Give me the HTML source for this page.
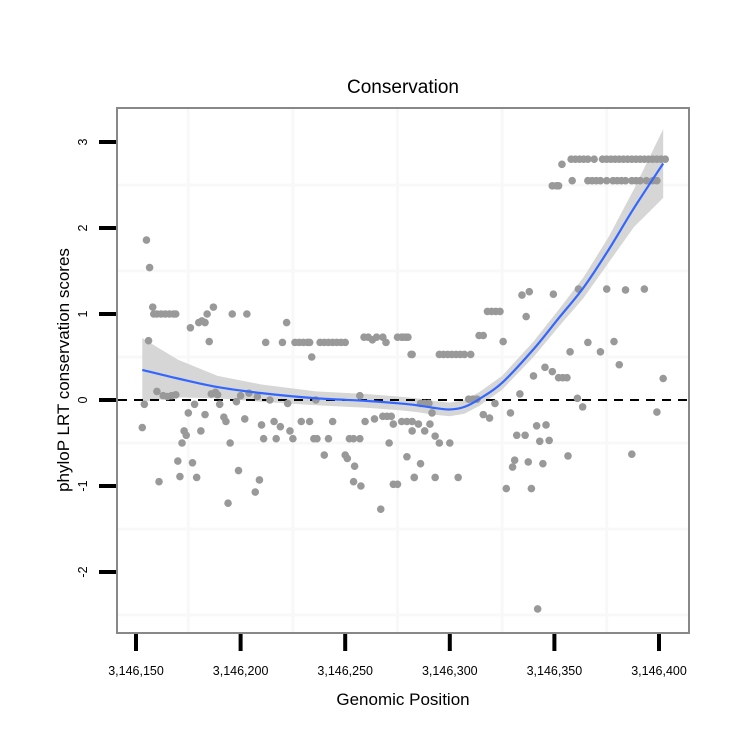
<!DOCTYPE html>
<html><head><meta charset="utf-8"><style>
html,body{margin:0;padding:0;background:#fff;}
svg{display:block;font-family:"Liberation Sans",sans-serif;}
</style></head><body>
<svg id="chart" width="750" height="750" viewBox="0 0 750 750">
<text x="403" y="93" font-size="19" text-anchor="middle">Conservation</text>
<text x="403" y="705" font-size="17" text-anchor="middle">Genomic Position</text>
<text transform="translate(69,370) rotate(-90)" font-size="17" text-anchor="middle">phyloP LRT conservation scores</text>
<g id="grid"></g>
<g id="band"></g>
<g id="points"></g>
<g id="fit"></g>
<rect x="117" y="108" width="572" height="525" fill="none" stroke="#888" stroke-width="2"/>
<g id="axes"></g>
</svg>
<script>
const xTicks = [3146150,3146200,3146250,3146300,3146350,3146400];
const xTickLabels = ["3,146,150","3,146,200","3,146,250","3,146,300","3,146,350","3,146,400"];
const yTicks = [-2,-1,0,1,2,3];
const yTickLabels = ["-2","-1","0","1","2","3"];
const xGrid = [3146175,3146225,3146275,3146325,3146375];
const yGrid = [-2.5,-1.5,-0.5,0.5,1.5,2.5];
const basePos = 3146150;
const pointPos = [3,4,5,6,6.5,8,8.5,10,12,14,16,18,19,10,13,15,17,19,11,20,21,22,23,24,25,28,27,29,26,30,31.5,33,34,37,35,33,31,36,38,39,40,42,43,45,44,46,53,48,50,52,54,58,49,57,59,60,61,62,64,66,67,69,70,72,72.5,73.6,75,76,78,80,82,83,84,79,83,86,85,86.5,92,90,94,88,90,92,94,96,98,100,100,101,104.5,104,107.5,117,102,104,107,107,109.5,114,109,111,113,115,118,119.5,118,120,122,123,121,123,125,125,127,129,130,131.5,127,129.5,132,132,129.5,133,
127.6,132,145,147,149,151,153,155,157,160,136,133,143,154,135,138,140.5,143,145,150,141.5,136,138,140,159,161,163,166,169,171.6,164,166,175.5,168,170,172,174,184.5,188,186.5,199.5,183.5,179,191.5,196,182,186,193,197.5,181,180,187.5,194.5,177,189,206.5,207.5,195.5,199,202,204,206,190,211,213.5,192,211.5,216,222,228.5,231,225,234,243,237,249,252,
203.6,199,201,202,208.5,216,218,220,222,225,228,230,232,234,237,239,241,244,247,249,208,210,212,214,216,219,223,225,227,229,231,233,235,237,239,241,243,245,247,249,251,253];
const pointVal = [-0.32,-0.05,1.86,0.69,1.54,1.08,1.0,1.0,1.0,1.0,1.0,1.0,1.0,0.1,0.05,0.04,0.05,0.06,-0.95,-0.71,-0.89,-0.5,-0.36,-0.41,-0.15,-0.05,-0.73,-0.9,0.84,0.9,0.92,0.9,1.0,1.08,0.68,-0.17,-0.36,0.07,0.09,0.06,-0.05,-0.2,-0.25,-0.5,-1.2,1.0,1.0,-0.02,0.05,-0.22,0.08,0.04,-0.82,-1.07,-0.93,-0.29,-0.45,0.67,0.0,-0.25,-0.45,-0.31,0.67,0.9,-0.04,-0.36,-0.45,0.67,0.67,0.67,0.67,0.67,0.5,-0.25,-0.25,0.0,-0.45,-0.45,-0.45,-0.64,-0.25,0.67,0.67,0.67,0.67,0.67,0.67,0.67,-0.64,-0.68,-0.77,-0.95,-1.0,-1.27,-0.45,-0.45,-0.45,0.05,-0.25,-0.22,0.73,0.73,0.7,0.73,0.73,0.67,-0.19,-0.19,-0.19,-0.28,-0.5,-0.98,-0.98,0.73,0.73,0.73,0.73,0.53,-0.25,-0.25,-0.25,-0.36,-0.66,-0.9,
0.73,0.53,0.53,0.53,0.53,0.53,0.53,0.53,0.53,0.53,-0.74,-0.9,-0.9,-0.9,-0.28,-0.36,-0.28,-0.42,-0.5,-0.5,-0.15,-0.04,-0.04,-0.04,0.01,0.01,0.01,-0.17,-0.21,-0.04,0.75,0.75,0.68,1.03,1.03,1.03,1.03,1.22,1.26,0.97,1.23,0.07,-0.15,-0.3,-0.29,-0.41,-0.41,-0.48,-0.47,-0.7,-0.78,-0.72,-0.74,-1.03,-1.03,-0.65,0.56,0.38,0.33,0.26,0.26,0.26,0.28,0.02,-0.08,-2.43,1.29,0.67,0.56,0.68,0.41,1.29,1.28,1.29,-0.63,-0.14,0.25,
2.74,2.49,2.49,2.49,2.55,2.55,2.55,2.55,2.55,2.55,2.55,2.55,2.55,2.55,2.55,2.55,2.55,2.55,2.55,2.55,2.8,2.8,2.8,2.8,2.8,2.8,2.8,2.8,2.8,2.8,2.8,2.8,2.8,2.8,2.8,2.8,2.8,2.8,2.8,2.8,2.8,2.8];
const fitPos = [3,20,39,60,86,110,126,134,142,150,157,164,175,190,202,214,226,238,252];
const fitVal = [0.35,0.25,0.15,0.08,0.02,-0.01,-0.04,-0.06,-0.09,-0.11,-0.08,0.01,0.2,0.59,0.95,1.31,1.75,2.23,2.75];
const fitSe = [0.37,0.22,0.13,0.1,0.08,0.08,0.08,0.08,0.08,0.08,0.08,0.08,0.08,0.09,0.1,0.12,0.15,0.22,0.4];

const NS='http://www.w3.org/2000/svg';
function sx(v){return 136+(v-basePos)*2.092;}
function sxo(o){return 136+o*2.092;}
function sy(v){return 400-v*86;}
function mk(tag,attrs,parent){const e=document.createElementNS(NS,tag);for(const k in attrs)e.setAttribute(k,attrs[k]);parent.appendChild(e);return e;}
const grid=document.getElementById('grid');
mk('rect',{x:117,y:108,width:572,height:525,fill:'#fff'},grid);
xGrid.forEach(g=>{const l=mk('line',{x1:sx(g),x2:sx(g),y1:109,y2:632,stroke:'#f8f8f8','stroke-width':3},grid);

});
yGrid.forEach(g=>{const l=mk('line',{x1:118,x2:688,y1:sy(g),y2:sy(g),stroke:'#f8f8f8','stroke-width':3},grid);

});
let up=[],lo=[];
fitPos.forEach((p,i)=>{up.push(sxo(p).toFixed(1)+','+sy(fitVal[i]+fitSe[i]).toFixed(1));lo.unshift(sxo(p).toFixed(1)+','+sy(fitVal[i]-fitSe[i]).toFixed(1));});
const band=mk('polygon',{points:up.concat(lo).join(' '),fill:'#d6d6d6'},document.getElementById('band'));


const z=mk('line',{x1:118,x2:688,y1:sy(0),y2:sy(0),stroke:'#000','stroke-width':2,'stroke-dasharray':'9,7'},document.getElementById('band'));


const pts=document.getElementById('points');
pointPos.forEach((p,i)=>{const c=mk('circle',{cx:sxo(p),cy:sy(pointVal[i]),r:3.8,fill:'#999'},pts);

});
const P=fitPos.map((p,i)=>[sxo(p),sy(fitVal[i])]);
let d='M'+P[0][0]+','+P[0][1];
for(let i=0;i<P.length-1;i++){const p0=P[Math.max(0,i-1)],p1=P[i],p2=P[i+1],p3=P[Math.min(P.length-1,i+2)];
d+=' C'+(p1[0]+(p2[0]-p0[0])/6)+','+(p1[1]+(p2[1]-p0[1])/6)+' '+(p2[0]-(p3[0]-p1[0])/6)+','+(p2[1]-(p3[1]-p1[1])/6)+' '+p2[0]+','+p2[1];}
const fl=mk('path',{d:d,fill:'none',stroke:'#3366ff','stroke-width':2.2},document.getElementById('fit'));


const ax=document.getElementById('axes');
xTicks.forEach((t,i)=>{const l=mk('line',{x1:sx(t),x2:sx(t),y1:634,y2:651,stroke:'#000','stroke-width':4},ax);


const tx=mk('text',{x:sx(t),y:675,'font-size':12.5,'text-anchor':'middle'},ax);tx.textContent=xTickLabels[i];

});
yTicks.forEach((t,i)=>{const l=mk('line',{x1:99,x2:116,y1:sy(t),y2:sy(t),stroke:'#000','stroke-width':4},ax);


const tx=mk('text',{transform:'translate(87,'+sy(t)+') rotate(-90)','font-size':12.5,'text-anchor':'middle'},ax);tx.textContent=yTickLabels[i];

});
</script>
</body></html>
